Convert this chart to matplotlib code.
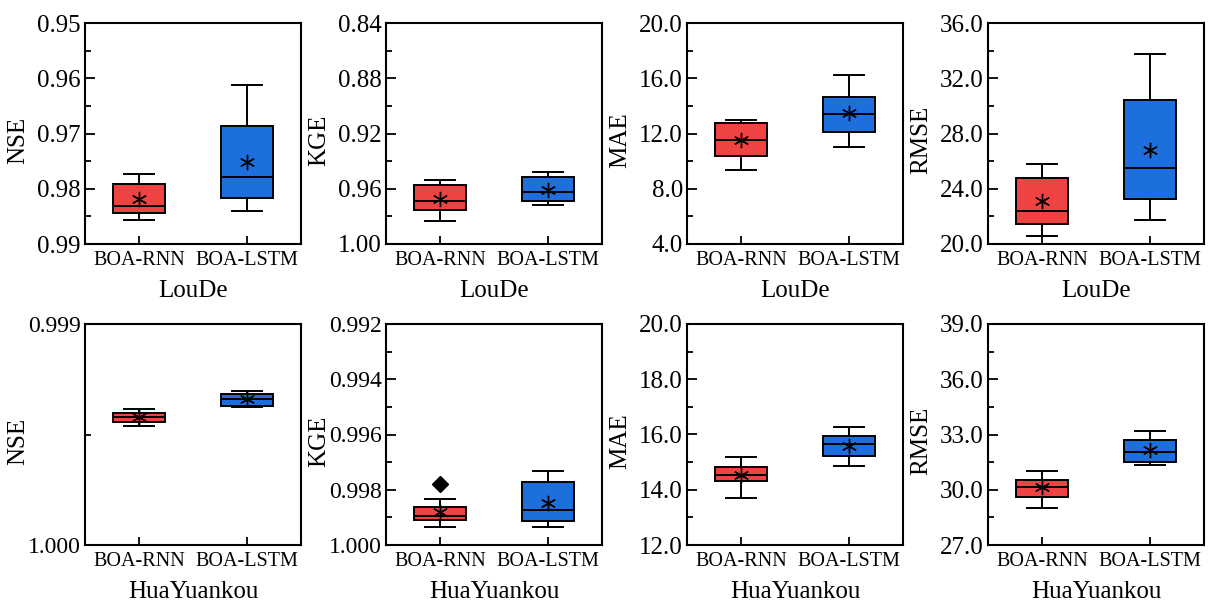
import matplotlib
matplotlib.use('Agg')
import matplotlib.pyplot as plt
from matplotlib.ticker import MultipleLocator, FormatStrFormatter

plt.rcParams['font.family'] = ['Liberation Serif', 'DejaVu Serif']

models = ['BOA-RNN', 'BOA-LSTM']
stations = ['LouDe', 'HuaYuankou']
metrics = ['NSE', 'KGE', 'MAE', 'RMSE']

# five-number summaries: [whislo, q1, median, q3, whishi]
loude_nse_rnn = [0.9773, 0.9791, 0.9831, 0.9844, 0.9856]
loude_nse_lstm = [0.9613, 0.9686, 0.9779, 0.9817, 0.9840]
loude_nse_mean = [0.9819, 0.9752]

loude_kge_rnn = [0.9534, 0.9570, 0.9686, 0.9751, 0.9836]
loude_kge_lstm = [0.9479, 0.9515, 0.9624, 0.9691, 0.9715]
loude_kge_mean = [0.9674, 0.9607]

loude_mae_rnn = [9.33, 10.40, 11.55, 12.76, 12.95]
loude_mae_lstm = [11.05, 12.13, 13.41, 14.64, 16.21]
loude_mae_mean = [11.51, 13.48]

loude_rmse_rnn = [20.60, 21.47, 22.39, 24.78, 25.82]
loude_rmse_lstm = [21.71, 23.26, 25.50, 30.45, 33.78]
loude_rmse_mean = [23.09, 26.83]

hua_nse_rnn = [0.999385, 0.999404, 0.999422, 0.999442, 0.999462]
hua_nse_lstm = [0.999302, 0.999317, 0.999341, 0.999371, 0.999377]
hua_nse_mean = [0.999419, 0.999341]

hua_kge_rnn = [0.998335, 0.998612, 0.998950, 0.999095, 0.999336]
hua_kge_lstm = [0.997321, 0.997707, 0.998733, 0.999119, 0.999336]
hua_kge_mean = [0.998793, 0.998467]
hua_kge_rnn_fliers = [0.997804]

hua_mae_rnn = [13.69, 14.317, 14.534, 14.836, 15.198]
hua_mae_lstm = [14.86, 15.222, 15.656, 15.958, 16.284]
hua_mae_mean = [14.53, 15.60]

hua_rmse_rnn = [29.03, 29.62, 30.17, 30.53, 31.04]
hua_rmse_lstm = [31.34, 31.53, 32.07, 32.70, 33.19]
hua_rmse_mean = [30.17, 32.16]

# y axis settings: (bottom, top) -- NSE/KGE drawn inverted
ylims = [
    [(0.99, 0.95), (1.00, 0.84), (4.0, 20.0), (20.0, 36.0)],
    [(1.000, 0.999), (1.000, 0.992), (12.0, 20.0), (27.0, 39.0)],
]
ysteps = [
    [(0.01, 0.005), (0.04, 0.02), (4.0, 2.0), (4.0, 2.0)],
    [(0.001, 0.0005), (0.002, 0.001), (2.0, 1.0), (3.0, 1.5)],
]
yfmts = [
    ['%.2f', '%.2f', '%.1f', '%.1f'],
    ['%.3f', '%.3f', '%.1f', '%.1f'],
]
ytick_sizes = [[18, 18, 18, 18], [17, 17, 18, 18]]

data = [
    [(loude_nse_rnn, loude_nse_lstm, loude_nse_mean, []),
     (loude_kge_rnn, loude_kge_lstm, loude_kge_mean, []),
     (loude_mae_rnn, loude_mae_lstm, loude_mae_mean, []),
     (loude_rmse_rnn, loude_rmse_lstm, loude_rmse_mean, [])],
    [(hua_nse_rnn, hua_nse_lstm, hua_nse_mean, []),
     (hua_kge_rnn, hua_kge_lstm, hua_kge_mean, hua_kge_rnn_fliers),
     (hua_mae_rnn, hua_mae_lstm, hua_mae_mean, []),
     (hua_rmse_rnn, hua_rmse_lstm, hua_rmse_mean, [])],
]

colors = ['#EF4343', '#1C6FDC']

W, H = 1208, 606
fig = plt.figure(figsize=(W / 100, H / 100), dpi=100)
lefts = [85, 386, 687, 988]
tops = [23, 324]
aw, ah = 216, 221

for r in range(2):
    for c in range(4):
        ax = fig.add_axes([lefts[c] / W, 1 - (tops[r] + ah) / H, aw / W, ah / H])
        rnn, lstm, means, fl = data[r][c]
        stats = []
        for i, five in enumerate([rnn, lstm]):
            stats.append(dict(whislo=five[0], q1=five[1], med=five[2], q3=five[3],
                              whishi=five[4], mean=means[i],
                              fliers=fl if i == 0 else [], label=models[i]))
        bp = ax.bxp(stats, positions=[1, 2], widths=0.48, capwidths=0.28,
                    patch_artist=True, showmeans=True, showfliers=True,
                    boxprops=dict(linewidth=1.4, edgecolor='black'),
                    medianprops=dict(color='black', linewidth=1.4),
                    whiskerprops=dict(color='black', linewidth=1.4),
                    capprops=dict(color='black', linewidth=1.4),
                    meanprops=dict(marker=(6, 2, 0), markersize=11,
                                   markeredgecolor='black', markerfacecolor='black',
                                   markeredgewidth=1.0),
                    flierprops=dict(marker='D', markersize=8,
                                    markerfacecolor='black', markeredgecolor='black'))
        for patch, col in zip(bp['boxes'], colors):
            patch.set_facecolor(col)
        ax.set_xlim(0.5, 2.5)
        ax.set_ylim(*ylims[r][c])
        maj, mnr = ysteps[r][c]
        ax.yaxis.set_major_locator(MultipleLocator(maj))
        ax.yaxis.set_minor_locator(MultipleLocator(mnr))
        ax.yaxis.set_major_formatter(FormatStrFormatter(yfmts[r][c]))
        ax.set_xticks([1, 2])
        ax.set_xticklabels(models, fontsize=14.5)
        ax.tick_params(axis='y', which='both', direction='in',
                       labelsize=ytick_sizes[r][c], width=1.3, pad=3)
        ax.tick_params(axis='y', which='major', length=7)
        ax.tick_params(axis='y', which='minor', length=4)
        ax.tick_params(axis='x', which='major', direction='in', length=6, width=1.3, pad=5)
        for s in ax.spines.values():
            s.set_linewidth(1.5)
        ax.set_ylabel(metrics[c], fontsize=18)
        ax.yaxis.set_label_coords(-67 / aw, 0.47)
        ax.yaxis.label.set_va('center')
        ax.set_xlabel(stations[r], fontsize=18)
        ax.xaxis.set_label_coords(0.5, -53 / ah)
        ax.xaxis.label.set_va('baseline')

fig.savefig('out.png', dpi=100)
